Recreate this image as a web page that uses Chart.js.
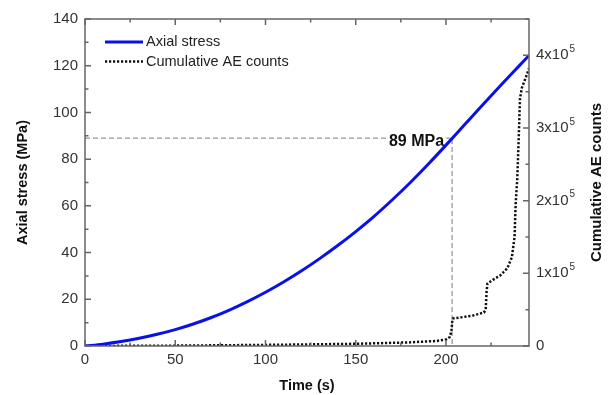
<!DOCTYPE html>
<html>
<head>
<meta charset="utf-8">
<script src="https://cdn.jsdelivr.net/npm/chart.js@4.4.0/dist/chart.umd.min.js"></script>
<style>
  html, body { margin: 0; padding: 0; background: #fff; }
  #wrap { width: 610px; height: 395px; }
</style>
</head>
<body>
<div id="wrap"><canvas id="chart" width="610" height="395"></canvas></div>
<script>
// axial stress curve (MPa) against time (s)
const timeS = [0, 10, 20, 30, 40, 50, 60, 70, 80, 90, 100, 110, 120, 130, 140, 150, 160, 170, 180, 190, 200, 210, 220, 230, 240, 246];
const stressMPa = [0, 0.8, 1.9, 3.3, 5.0, 7.0, 9.4, 12.2, 15.4, 19.0, 23.0, 27.4, 32.2, 37.4, 43.0, 49.0, 55.4, 62.4, 69.8, 77.7, 86.0, 94.5, 103.0, 111.3, 119.5, 124.4];

// cumulative AE counts against time (s)
const aeTime = [0, 50, 100, 150, 180, 195, 200, 202, 203, 203.5, 204, 210, 215, 221, 222, 222.5, 223, 226, 230, 234, 236.5, 238, 238.6, 239.5, 240.3, 241, 242, 244, 246];
const aeCounts = [0, 500, 1500, 3000, 5000, 7000, 9000, 12000, 20000, 35000, 38000, 40000, 42000, 46000, 50000, 75000, 86000, 91000, 97000, 107000, 122000, 150000, 195000, 230000, 285000, 340000, 355000, 368000, 382000];

// right axis tick values
const aeTickValues = [0, 100000, 200000, 300000, 400000];

// marked point
const markTime = [0, 203.4, 203.4];
const markStress = [89, 89, 0];
const markLabel = '89 MPa';

const seriesNames = ['Axial stress', 'Cumulative AE counts'];
const rightTitle = 'Cumulative AE counts';

const FONT = 'Liberation Sans, Arial, sans-serif';

function pts(xs, ys) {
    return xs.map(function(x, i) { return {x: x, y: ys[i]}; });
}

// frame, inward ticks, right labels, legend
const framePlugin = {
    id: 'frame',
    afterDatasetDraw: function(chart, args) {
        if (args.index !== 0) return;
        const ctx = chart.ctx;
        const xs = chart.scales.x, ys = chart.scales.y;
        const px = xs.getPixelForValue(markTime[1]);
        const py = ys.getPixelForValue(markStress[0]);
        ctx.save();
        ctx.font = 'bold 16px ' + FONT;
        ctx.textAlign = 'right';
        ctx.textBaseline = 'middle';
        const w = ctx.measureText(markLabel).width;
        ctx.fillStyle = '#fff';
        ctx.fillRect(px - 8 - w - 2, py - 6, w + 4, 12);
        ctx.fillStyle = '#111';
        ctx.fillText(markLabel, px - 8, py + 3);
        ctx.restore();
    },
    afterDraw: function(chart) {
        const ctx = chart.ctx;
        const a = chart.chartArea;
        const xs = chart.scales.x, ys = chart.scales.y, y2 = chart.scales.y2;
        ctx.save();
        ctx.strokeStyle = '#666';
        ctx.lineWidth = 1.5;
        ctx.strokeRect(a.left, a.top, a.right - a.left, a.bottom - a.top);

        function tickSet(scale, step) {
            let out = [];
            for (let v = scale.min; v <= scale.max + 1e-9; v += step / 2) {
                out.push({v: v, major: Math.abs((v / step) - Math.round(v / step)) < 1e-6});
            }
            return out;
        }
        ctx.beginPath();
        tickSet(xs, 50).forEach(function(t) {
            const p = xs.getPixelForValue(t.v);
            const l = t.major ? 6 : 3.5;
            ctx.moveTo(p, a.bottom); ctx.lineTo(p, a.bottom - l);
            ctx.moveTo(p, a.top); ctx.lineTo(p, a.top + l);
        });
        tickSet(ys, 20).forEach(function(t) {
            const p = ys.getPixelForValue(t.v);
            const l = t.major ? 6 : 3.5;
            ctx.moveTo(a.left, p); ctx.lineTo(a.left + l, p);
        });
        tickSet(y2, 100000).forEach(function(t) {
            const p = y2.getPixelForValue(t.v);
            const l = t.major ? 6 : 3.5;
            ctx.moveTo(a.right, p); ctx.lineTo(a.right - l, p);
        });
        ctx.stroke();

        // right axis labels with exponent
        ctx.fillStyle = '#333';
        ctx.textBaseline = 'middle';
        ctx.textAlign = 'left';
        y2.ticks.forEach(function(t) {
            const p = y2.getPixelForValue(t.value);
            const x0 = a.right + 7;
            ctx.font = '15px ' + FONT;
            if (t.value === 0) {
                ctx.fillText('0', x0, p);
                return;
            }
            const base = Math.round(t.value / 100000) + 'x10';
            ctx.fillText(base, x0, p);
            const bw = ctx.measureText(base).width;
            ctx.font = '10px ' + FONT;
            ctx.fillText('5', x0 + bw + 1, p - 6);
        });

        // right title
        ctx.save();
        ctx.translate(597, (a.top + a.bottom) / 2);
        ctx.rotate(-Math.PI / 2);
        ctx.textAlign = 'center';
        ctx.font = 'bold 15px ' + FONT;
        ctx.fillStyle = '#111';
        ctx.fillText(rightTitle, 0, 0);
        ctx.restore();

        // legend
        const ds = chart.data.datasets;
        [1, 2].forEach(function(idx, row) {
            const d = ds[idx];
            const ly = 42 + row * 19.5;
            ctx.beginPath();
            ctx.strokeStyle = d.borderColor;
            ctx.lineWidth = d.borderWidth;
            ctx.setLineDash(d.borderDash || []);
            ctx.moveTo(105, ly); ctx.lineTo(143, ly);
            ctx.stroke();
            ctx.setLineDash([]);
            ctx.font = '14.5px ' + FONT;
            ctx.fillStyle = '#222';
            ctx.textAlign = 'left';
            ctx.fillText(d.label, 146, ly);
        });
        ctx.restore();
    }
};

new Chart(document.getElementById('chart').getContext('2d'), {
    type: 'line',
    data: {
        datasets: [{
            label: 'mark',
            data: pts(markTime, markStress),
            borderColor: '#9a9a9a',
            borderWidth: 1.3,
            borderDash: [5, 3],
            pointRadius: 0,
            yAxisID: 'y',
            order: 3
        }, {
            label: seriesNames[0],
            data: pts(timeS, stressMPa),
            borderColor: '#0a10e8',
            borderWidth: 3,
            pointRadius: 0,
            cubicInterpolationMode: 'monotone',
            yAxisID: 'y',
            order: 1
        }, {
            label: seriesNames[1],
            data: pts(aeTime, aeCounts),
            borderColor: '#111',
            borderWidth: 2.5,
            borderDash: [2.2, 1.8],
            borderCapStyle: 'butt',
            pointRadius: 0,
            tension: 0,
            yAxisID: 'y2',
            order: 2
        }]
    },
    options: {
        responsive: false,
        animation: false,
        layout: { padding: { top: 19, left: 0, right: 0, bottom: 0 } },
        plugins: { legend: { display: false }, tooltip: { enabled: false } },
        scales: {
            x: {
                type: 'linear', position: 'bottom', min: 0, max: 246,
                grid: { display: false, drawTicks: false },
                border: { display: false },
                ticks: { stepSize: 50, includeBounds: false, padding: 5, color: '#333', font: { family: FONT, size: 15 } },
                title: { display: true, text: 'Time (s)', color: '#111', padding: { top: 0, bottom: 0 }, font: { family: FONT, size: 14.5, weight: 'bold' } },
                afterFit: function(s) { s.height = 49; }
            },
            y: {
                type: 'linear', position: 'left', min: 0, max: 140,
                grid: { display: false, drawTicks: false },
                border: { display: false },
                ticks: { stepSize: 20, includeBounds: false, padding: 7, color: '#333', font: { family: FONT, size: 15 } },
                title: { display: true, text: 'Axial stress (MPa)', color: '#111', padding: { top: 14, bottom: 0 }, font: { family: FONT, size: 14.5, weight: 'bold' } },
                afterFit: function(s) { s.width = 85; }
            },
            y2: {
                type: 'linear', position: 'right', min: 0, max: 450000,
                grid: { display: false, drawTicks: false },
                border: { display: false },
                ticks: { display: false },
                afterBuildTicks: function(s) {
                    s.ticks = aeTickValues.map(function(v) { return {value: v}; });
                },
                afterFit: function(s) { s.width = 81; }
            }
        }
    },
    plugins: [framePlugin]
});
</script>
</body>
</html>
